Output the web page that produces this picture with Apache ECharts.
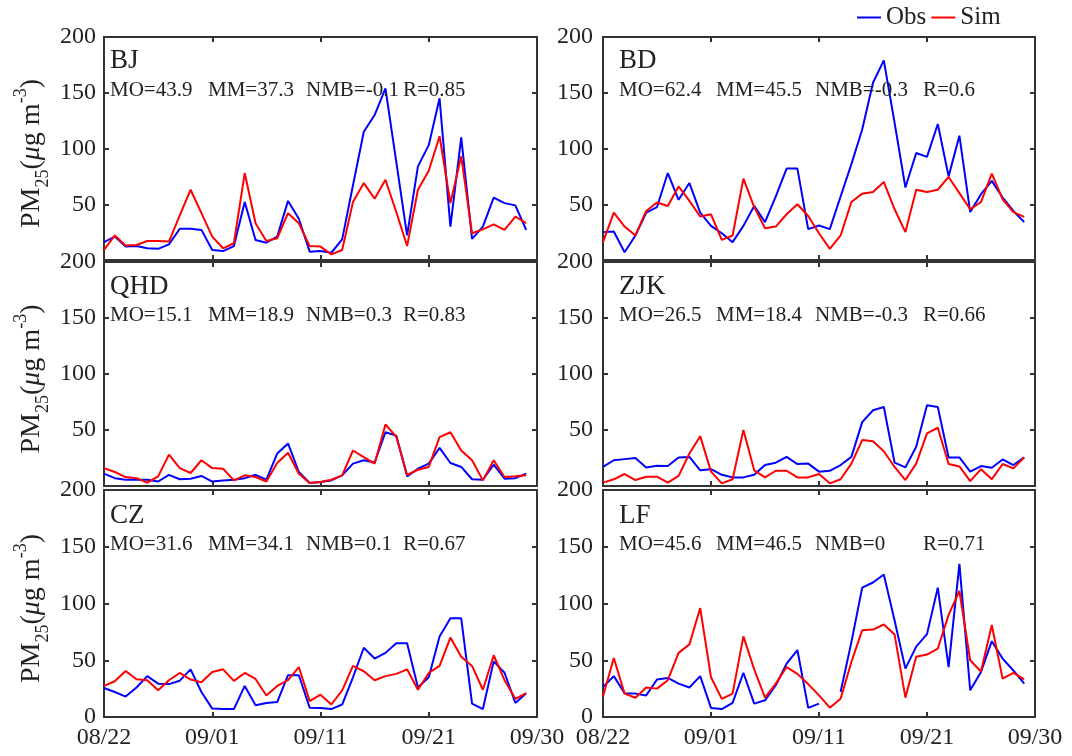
<!DOCTYPE html>
<html>
<head>
<meta charset="utf-8">
<script src="https://cdn.jsdelivr.net/npm/echarts@6/dist/echarts.min.js"></script>
<style>
  html, body { margin: 0; padding: 0; background: #fff; }
  #chart { width: 1072px; height: 756px; }
</style>
</head>
<body>
<div id="chart"></div>
<script>
// x tick labels (axis runs over 40 days, one point per day)
const xTickLabels = ['08/22', '09/01', '09/11', '09/21', '09/30']
const sites = ['BJ', 'BD', 'QHD', 'ZJK', 'CZ', 'LF']

// statistics printed in each panel
const moVals = ['43.9', '62.4', '15.1', '26.5', '31.6', '45.6']
const mmVals = ['37.3', '45.5', '18.9', '18.4', '34.1', '46.5']
const nmbVals = ['-0.1', '-0.3', '0.3', '-0.3', '0.1', '0']
const rVals = ['0.85', '0.6', '0.83', '0.66', '0.67', '0.71']

// daily PM2.5, 08/22 .. 09/30
const obsBJ = [16, 21, 12, 12.5, 10.5, 10, 14, 28, 28, 27, 9, 8, 12.5, 52, 18, 15.5, 21, 53, 37, 7.5, 8, 6.5, 18.5, 67, 115, 130, 154, 88, 22, 84, 103, 145, 30, 110, 19, 30, 56, 51, 49, 27]
const simBJ = [9, 22, 13, 13.5, 17, 17, 16.5, 40, 63, 42, 21, 10.5, 15, 78, 33, 17, 19.5, 42, 33, 12.5, 12, 5, 9, 52, 69, 55, 72, 43, 12.5, 63, 80, 111, 51, 93, 24, 27.5, 32, 27, 39, 33]
const obsBD = [25, 25.5, 7, 22, 42.5, 47.5, 78, 54, 69, 42.5, 30.6, 24, 16, 30.6, 48.5, 34, 57, 82, 82, 27.7, 31, 27.7, 57, 86, 117, 159, 179, 123, 65, 96, 92.5, 122, 75, 111.5, 43, 59, 71, 56, 44, 34]
const simBD = [16, 42.5, 30, 22, 44, 51.5, 48.5, 66, 53, 39, 41, 18, 22, 73, 47.5, 28.5, 30, 41, 50, 39.5, 24, 10, 22, 52, 59.5, 61, 70, 45.5, 25, 63, 61, 63, 74.5, 60, 45.5, 52, 77.5, 54.5, 43, 38.7]
const obsQHD = [11, 7, 5.6, 5.6, 5.6, 4, 10, 6, 6.5, 9, 4, 5, 5.6, 7, 10, 5.6, 29, 38, 12.5, 2.7, 3.6, 5, 9.5, 20, 23, 21, 48, 45, 8.6, 15.4, 20, 34, 20.5, 17, 6, 5.6, 19, 6.5, 7, 11]
const simQHD = [16, 12.5, 8, 7, 3, 8.6, 28, 16, 11.6, 23, 16, 15.4, 5, 9.5, 8, 4, 20.5, 29.7, 11, 2.7, 3.6, 5.6, 9.5, 31.7, 25.8, 20, 55, 44, 10, 14.5, 17, 43.6, 48, 31.7, 23, 5, 23, 8, 8.6, 9.5]
const obsZJK = [17, 23, 24, 25, 16.6, 18, 17.8, 25.5, 26, 14, 15, 10, 7.7, 7.7, 10, 18.7, 20.8, 26, 19.6, 20, 12.8, 13.6, 18.7, 26, 57, 67.6, 70.6, 20.8, 16.6, 35, 72, 70.6, 25.5, 25.5, 12.8, 17.8, 16.3, 23.7, 18.7, 25.6]
const simZJK = [3, 6, 10.7, 5.3, 8.3, 8.3, 3, 9, 29, 44.5, 12.8, 2.4, 6, 50, 14, 7.7, 13.6, 13.6, 7.7, 7.7, 10.7, 2.4, 6, 20, 41, 40, 31, 17, 5.3, 20, 47, 52, 19.6, 17.5, 4.3, 15, 6, 19.6, 15.7, 25.6]
const obsCZ = [25.6, 22, 18, 26, 36, 29.4, 29, 32, 42, 22, 7.4, 7, 7, 27.4, 10.3, 12.4, 13.2, 36.8, 36.8, 8.2, 8, 7, 11, 35, 61, 51.5, 56.5, 65, 65, 26, 35, 71, 87, 87, 11.8, 7, 49, 39, 12.4, 21]
const simCZ = [27.4, 31.5, 40.6, 33.2, 32.4, 23.5, 32.4, 38.8, 33, 30.6, 39.7, 42, 31.8, 38.8, 33.5, 19, 27.4, 32.4, 44, 14, 19.7, 11, 23.5, 45, 40.3, 32.4, 36, 38, 42, 24, 38.8, 45, 70, 53, 45, 24, 54.4, 32.4, 16, 21]
const obsLF = [26.5, 36, 21, 20.6, 19, 33, 34.4, 29.4, 26, 36, 8, 7, 12.4, 39, 11.8, 14.7, 28, 47, 59, 8, 11.8, null, 22, 66, 114, 118.5, 125.6, 85, 42.6, 62, 73, 114, 44, 135, 23.5, 39.7, 66.8, 51.5, 41, 29.4]
const simLF = [18, 52, 20.6, 17, 26, 25, 32.4, 56.5, 64, 96, 35, 16, 20.6, 71, 42, 17, 29.4, 44, 38, 29, 19, 8.2, 16, 48.5, 76.5, 77, 81.5, 72.6, 17, 53, 55, 60.3, 90, 111, 50, 40, 81, 33.8, 38.8, 33.2]

const obsAll = [obsBJ, obsBD, obsQHD, obsZJK, obsCZ, obsLF]
const simAll = [simBJ, simBD, simQHD, simZJK, simCZ, simLF]

// panel layout
const colLeft = [104, 603]
const colWidth = [433, 432]
const rowTop = [37, 262, 490]
const rowHeight = [223, 224, 227]
const labelBase = [61, 287, 516]   // site name centre line
const statsBase = [90.5, 315.5, 544.5]
const statsX = [[110, 208, 306, 403], [619, 716, 815, 923]]

const FONT = '"Liberation Serif", "Times New Roman", serif'
const TEXT = '#222'
const frame = { color: '#333', width: 2 }

const grids = []
const xAxes = []
const yAxes = []
const series = []
const graphics = []

sites.forEach((site, k) => {
  const col = k % 2
  const row = Math.floor(k / 2)
  grids.push({ left: colLeft[col], top: rowTop[row], width: colWidth[col], height: rowHeight[row] })

  const tick = { show: true, inside: true, length: 5, lineStyle: frame }
  ;['bottom', 'top'].forEach(pos => {
    xAxes.push({
      gridIndex: k,
      type: 'value',
      position: pos,
      min: 0,
      max: 40,
      interval: 10,
      axisLine: { show: true, onZero: false, lineStyle: frame },
      axisTick: tick,
      splitLine: { show: false },
      axisLabel: {
        show: pos === 'bottom' && row === 2,
        formatter: v => xTickLabels[Math.round(v / 10)],
        margin: 9,
        fontSize: 24,
        fontFamily: FONT,
        color: TEXT
      }
    })
  })
  ;['left', 'right'].forEach(pos => {
    yAxes.push({
      gridIndex: k,
      type: 'value',
      position: pos,
      min: 0,
      max: 200,
      interval: 50,
      axisLine: { show: true, onZero: false, lineStyle: frame },
      axisTick: tick,
      splitLine: { show: false },
      axisLabel: {
        show: pos === 'left',
        showMinLabel: row === 2,
        margin: col === 0 ? 8 : 10,
        fontSize: 24,
        fontFamily: FONT,
        color: TEXT
      }
    })
  })

  series.push({
    name: 'Obs',
    type: 'line',
    xAxisIndex: 2 * k,
    yAxisIndex: 2 * k,
    symbol: 'none',
    color: '#0000ff',
    lineStyle: { width: 2 },
    data: obsAll[k].map((v, i) => [i, v])
  })
  series.push({
    name: 'Sim',
    type: 'line',
    xAxisIndex: 2 * k,
    yAxisIndex: 2 * k,
    symbol: 'none',
    color: '#ff0000',
    lineStyle: { width: 2 },
    data: simAll[k].map((v, i) => [i, v])
  })

  // site name + stats
  graphics.push({
    type: 'text', x: statsX[col][0], y: labelBase[row], z: 100,
    style: { text: site, font: '27px ' + FONT, fill: TEXT, verticalAlign: 'middle' }
  })
  const parts = ['MO=' + moVals[k], 'MM=' + mmVals[k], 'NMB=' + nmbVals[k], 'R=' + rVals[k]]
  parts.forEach((t, j) => {
    graphics.push({
      type: 'text', x: statsX[col][j], y: statsBase[row], z: 100,
      style: { text: t, font: '21px ' + FONT, fill: TEXT, verticalAlign: 'middle' }
    })
  })

  // y axis title on the left column
  if (col === 0) {
    graphics.push({
      type: 'text',
      x: 32,
      y: rowTop[row] + rowHeight[row] / 2 + 5,
      rotation: Math.PI / 2,
      z: 100,
      style: {
        text: '{a|PM}{s|25}{a|(}{i|μ}{a|g m}{p|-3}{a|)}',
        align: 'center',
        verticalAlign: 'middle',
        fill: TEXT,
        rich: {
          a: { fontSize: 28, lineHeight: 40, fontFamily: FONT, fill: TEXT },
          i: { fontSize: 28, lineHeight: 40, fontFamily: FONT, fontStyle: 'italic', fill: TEXT },
          s: { fontSize: 18, lineHeight: 18, fontFamily: FONT, verticalAlign: 'bottom', fill: TEXT },
          p: { fontSize: 18, lineHeight: 18, fontFamily: FONT, verticalAlign: 'top', fill: TEXT }
        }
      }
    })
  }
})

const myChart = echarts.init(document.getElementById('chart'), null, { renderer: 'canvas' })
myChart.setOption({
  animation: false,
  backgroundColor: '#fff',
  legend: {
    data: ['Obs', 'Sim'],
    left: 852,
    top: 0,
    icon: 'rect',
    itemWidth: 24,
    itemHeight: 2,
    itemGap: 5,
    textStyle: { fontSize: 25, fontFamily: FONT, color: TEXT }
  },
  grid: grids,
  xAxis: xAxes,
  yAxis: yAxes,
  series: series,
  graphic: graphics
})
</script>
</body>
</html>
